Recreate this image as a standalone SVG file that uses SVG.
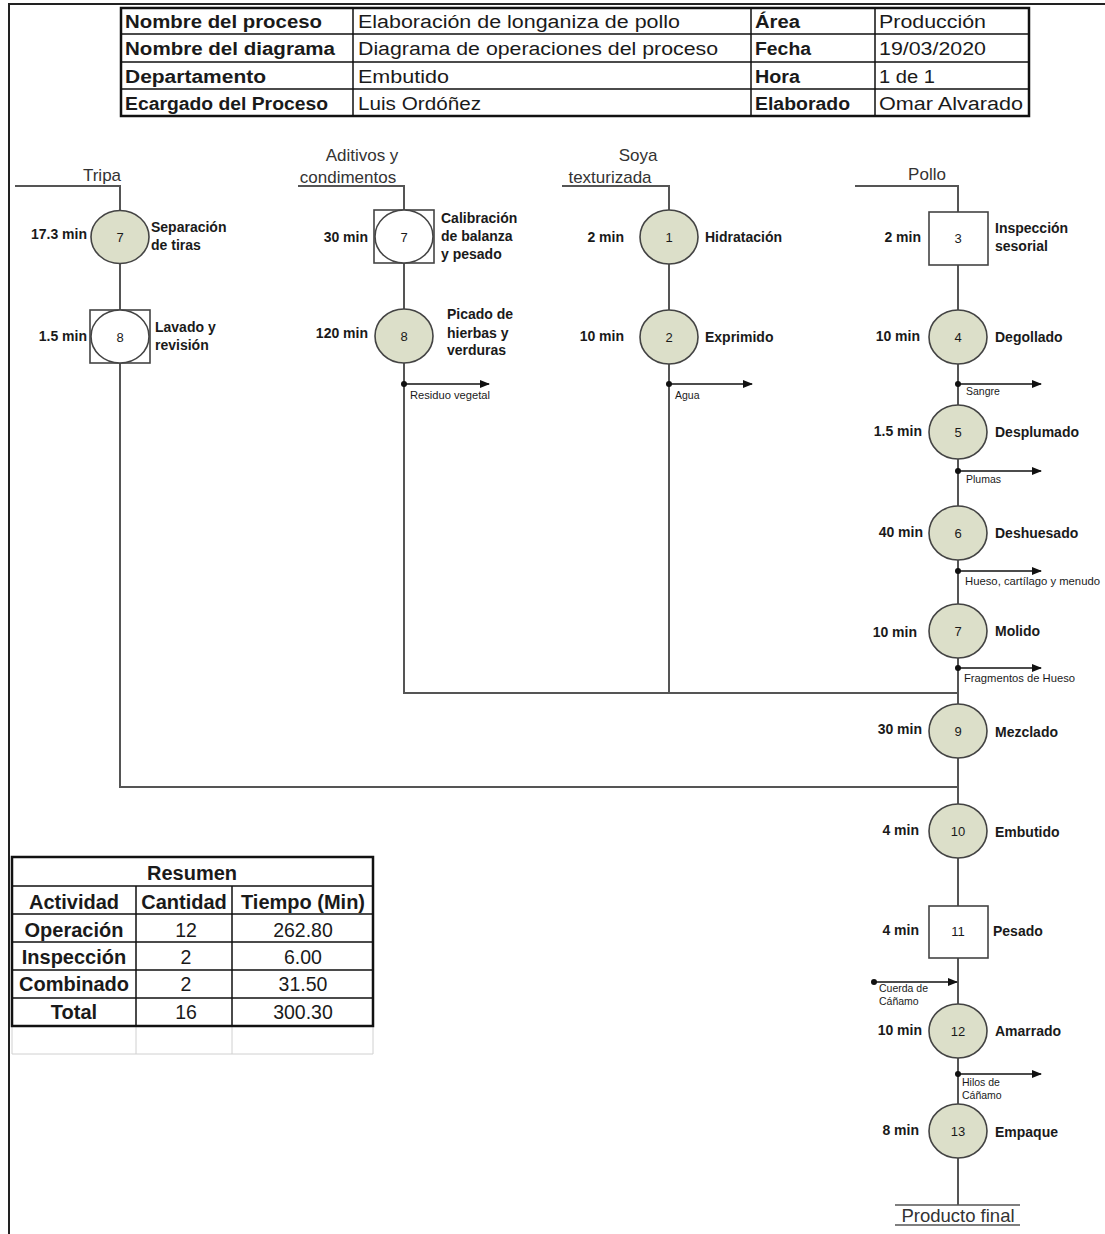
<svg xmlns="http://www.w3.org/2000/svg" width="1105" height="1234" viewBox="0 0 1105 1234">
<defs>
<marker id="arr" markerWidth="10" markerHeight="8" refX="9" refY="4" orient="auto" markerUnits="userSpaceOnUse">
<path d="M0,0 L10,4 L0,8 z" fill="#111"/>
</marker>
<style>
.ln{stroke:#555;stroke-width:2;fill:none}
.wl{stroke:#111;stroke-width:1.5;fill:none}
.dot{fill:#111}
.op{fill:#dcdfc9;stroke:#444;stroke-width:1.6}
.wc{fill:#fff;stroke:#444;stroke-width:1.6}
.sq{fill:#fff;stroke:#444;stroke-width:1.6}
text{font-family:"Liberation Sans",Arial,sans-serif;fill:#1a1a1a}
.h{font-size:18px}
.hb{font-size:18px;font-weight:bold}
.num{font-size:13px;text-anchor:middle}
.t{font-size:14px;font-weight:bold;text-anchor:end}
.lb{font-size:14px;font-weight:bold}
.in{font-size:17px;text-anchor:middle;fill:#333}
.w{font-size:10.5px}
.r{font-size:19.5px;text-anchor:middle}
.rb{font-size:20px;font-weight:bold;text-anchor:middle}
.cell{fill:none;stroke:#111;stroke-width:1.5}
</style>
</defs>
<rect width="1105" height="1234" fill="#fff"/>
<!-- page border -->
<path d="M9,1234 V4 H1105" stroke="#222" stroke-width="2" fill="none"/>

<!-- header table -->
<g id="header">
<rect x="121" y="8" width="908" height="108" fill="#fff" stroke="#111" stroke-width="2.5"/>
<path d="M121,34 H1029 M121,62 H1029 M121,89 H1029 M353,8 V116 M751,8 V116 M875,8 V116" class="cell"/>
<text class="hb" x="125" y="28" textLength="197" lengthAdjust="spacingAndGlyphs">Nombre del proceso</text>
<text class="h" x="358" y="28" textLength="322" lengthAdjust="spacingAndGlyphs">Elaboración de longaniza de pollo</text>
<text class="hb" x="755" y="28" textLength="45" lengthAdjust="spacingAndGlyphs">Área</text>
<text class="h" x="879" y="28" textLength="107" lengthAdjust="spacingAndGlyphs">Producción</text>
<text class="hb" x="125" y="55" textLength="210" lengthAdjust="spacingAndGlyphs">Nombre del diagrama</text>
<text class="h" x="358" y="55" textLength="360" lengthAdjust="spacingAndGlyphs">Diagrama de operaciones del proceso</text>
<text class="hb" x="755" y="55" textLength="56" lengthAdjust="spacingAndGlyphs">Fecha</text>
<text class="h" x="879" y="55" textLength="107" lengthAdjust="spacingAndGlyphs">19/03/2020</text>
<text class="hb" x="125" y="83" textLength="141" lengthAdjust="spacingAndGlyphs">Departamento</text>
<text class="h" x="358" y="83" textLength="91" lengthAdjust="spacingAndGlyphs">Embutido</text>
<text class="hb" x="755" y="83" textLength="45" lengthAdjust="spacingAndGlyphs">Hora</text>
<text class="h" x="879" y="83" textLength="56" lengthAdjust="spacingAndGlyphs">1 de 1</text>
<text class="hb" x="125" y="110" textLength="203" lengthAdjust="spacingAndGlyphs">Ecargado del Proceso</text>
<text class="h" x="358" y="110" textLength="123" lengthAdjust="spacingAndGlyphs">Luis Ordóñez</text>
<text class="hb" x="755" y="110" textLength="95" lengthAdjust="spacingAndGlyphs">Elaborado</text>
<text class="h" x="879" y="110" textLength="144" lengthAdjust="spacingAndGlyphs">Omar Alvarado</text>
</g>

<!-- connectors -->
<g id="connectors">
<path class="ln" d="M15,186 H120 V211 M120,263 V310 M120,363 V787 H958"/>
<path class="ln" d="M298,186 H404 V210 M404,263 V309 M404,363 V693 H669"/>
<path class="ln" d="M562,186 H669 V210 M669,264 V310 M669,364 V693 H958"/>
<path class="ln" d="M855,186 H958 V212 M958,265 V310 M958,364 V405 M958,459 V506 M958,560 V604 M958,658 V704 M958,758 V804 M958,858 V906 M958,958 V1004 M958,1058 V1104 M958,1158 V1205"/>
<!-- waste / input arrows -->
<path class="wl" d="M404,384 H489" marker-end="url(#arr)"/><circle class="dot" cx="404" cy="384" r="3"/>
<path class="wl" d="M669,384 H752" marker-end="url(#arr)"/><circle class="dot" cx="669" cy="384" r="3"/>
<path class="wl" d="M958,384 H1041" marker-end="url(#arr)"/><circle class="dot" cx="958" cy="384" r="3"/>
<path class="wl" d="M958,471 H1041" marker-end="url(#arr)"/><circle class="dot" cx="958" cy="471" r="3"/>
<path class="wl" d="M958,571 H1041" marker-end="url(#arr)"/><circle class="dot" cx="958" cy="571" r="3"/>
<path class="wl" d="M958,668 H1041" marker-end="url(#arr)"/><circle class="dot" cx="958" cy="668" r="3"/>
<path class="wl" d="M874,982 H957" marker-end="url(#arr)"/><circle class="dot" cx="874" cy="982" r="3"/>
<path class="wl" d="M958,1074 H1041" marker-end="url(#arr)"/><circle class="dot" cx="958" cy="1074" r="3"/>
<text class="w" x="410" y="399" textLength="80" lengthAdjust="spacingAndGlyphs">Residuo vegetal</text>
<text class="w" x="675" y="399">Agua</text>
<text class="w" x="966" y="395">Sangre</text>
<text class="w" x="966" y="483">Plumas</text>
<text class="w" x="965" y="585" textLength="135" lengthAdjust="spacingAndGlyphs">Hueso, cartílago y menudo</text>
<text class="w" x="964" y="682" textLength="111" lengthAdjust="spacingAndGlyphs">Fragmentos de Hueso</text>
<text class="w" x="879" y="992">Cuerda de</text>
<text class="w" x="879" y="1005">Cáñamo</text>
<text class="w" x="962" y="1086">Hilos de</text>
<text class="w" x="962" y="1099">Cáñamo</text>
</g>

<!-- inputs -->
<g id="inputs">
<text class="in" x="102" y="181">Tripa</text>
<text class="in" x="362" y="161">Aditivos y</text>
<text class="in" x="348" y="183">condimentos</text>
<text class="in" x="638" y="161">Soya</text>
<text class="in" x="610" y="183">texturizada</text>
<text class="in" x="927" y="180">Pollo</text>
</g>

<g id="n-tripa-7">
<ellipse class="op" cx="120" cy="237" rx="29" ry="26.5"/>
<text class="num" x="120" y="242">7</text>
<text class="t" x="87" y="239">17.3 min</text>
<text class="lb" x="151" y="232">Separación</text>
<text class="lb" x="151" y="250">de tiras</text>
</g>
<g id="n-tripa-8">
<rect class="sq" x="90" y="310" width="60" height="53"/>
<ellipse class="wc" cx="120" cy="336.5" rx="29" ry="26.5"/>
<text class="num" x="120" y="342">8</text>
<text class="t" x="87" y="341">1.5 min</text>
<text class="lb" x="155" y="332">Lavado y</text>
<text class="lb" x="155" y="350">revisión</text>
</g>

<g id="n-adit-7">
<rect class="sq" x="374" y="210" width="60" height="53"/>
<ellipse class="wc" cx="404" cy="236.5" rx="29" ry="26.5"/>
<text class="num" x="404" y="242">7</text>
<text class="t" x="368" y="242">30 min</text>
<text class="lb" x="441" y="223">Calibración</text>
<text class="lb" x="441" y="241">de balanza</text>
<text class="lb" x="441" y="259">y pesado</text>
</g>
<g id="n-adit-8">
<ellipse class="op" cx="404" cy="336" rx="29" ry="27"/>
<text class="num" x="404" y="341">8</text>
<text class="t" x="368" y="338">120 min</text>
<text class="lb" x="447" y="319">Picado de</text>
<text class="lb" x="447" y="338">hierbas y</text>
<text class="lb" x="447" y="355">verduras</text>
</g>

<g id="n-soya-1">
<ellipse class="op" cx="669" cy="237" rx="29" ry="27"/>
<text class="num" x="669" y="242">1</text>
<text class="t" x="624" y="242">2 min</text>
<text class="lb" x="705" y="242">Hidratación</text>
</g>
<g id="n-soya-2">
<ellipse class="op" cx="669" cy="337" rx="29" ry="27"/>
<text class="num" x="669" y="342">2</text>
<text class="t" x="624" y="341">10 min</text>
<text class="lb" x="705" y="342">Exprimido</text>
</g>

<g id="n-pollo-3">
<rect class="sq" x="929" y="212" width="59" height="53"/>
<text class="num" x="958" y="243">3</text>
<text class="t" x="921" y="242">2 min</text>
<text class="lb" x="995" y="233">Inspección</text>
<text class="lb" x="995" y="251">sesorial</text>
</g>
<g id="n-pollo-4">
<ellipse class="op" cx="958" cy="337" rx="29" ry="27"/>
<text class="num" x="958" y="342">4</text>
<text class="t" x="920" y="341">10 min</text>
<text class="lb" x="995" y="342">Degollado</text>
</g>
<g id="n-pollo-5">
<ellipse class="op" cx="958" cy="432" rx="29" ry="27"/>
<text class="num" x="958" y="437">5</text>
<text class="t" x="922" y="436">1.5 min</text>
<text class="lb" x="995" y="437">Desplumado</text>
</g>
<g id="n-pollo-6">
<ellipse class="op" cx="958" cy="533" rx="29" ry="27"/>
<text class="num" x="958" y="538">6</text>
<text class="t" x="923" y="537">40 min</text>
<text class="lb" x="995" y="538">Deshuesado</text>
</g>
<g id="n-pollo-7">
<ellipse class="op" cx="958" cy="631" rx="29" ry="27"/>
<text class="num" x="958" y="636">7</text>
<text class="t" x="917" y="637">10 min</text>
<text class="lb" x="995" y="636">Molido</text>
</g>
<g id="n-9">
<ellipse class="op" cx="958" cy="731" rx="29" ry="27"/>
<text class="num" x="958" y="736">9</text>
<text class="t" x="922" y="734">30 min</text>
<text class="lb" x="995" y="737">Mezclado</text>
</g>
<g id="n-10">
<ellipse class="op" cx="958" cy="831" rx="29" ry="27"/>
<text class="num" x="958" y="836">10</text>
<text class="t" x="919" y="835">4 min</text>
<text class="lb" x="995" y="837">Embutido</text>
</g>
<g id="n-11">
<rect class="sq" x="929" y="906" width="59" height="52"/>
<text class="num" x="958" y="936">11</text>
<text class="t" x="919" y="935">4 min</text>
<text class="lb" x="993" y="936">Pesado</text>
</g>
<g id="n-12">
<ellipse class="op" cx="958" cy="1031" rx="29" ry="27"/>
<text class="num" x="958" y="1036">12</text>
<text class="t" x="922" y="1035">10 min</text>
<text class="lb" x="995" y="1036">Amarrado</text>
</g>
<g id="n-13">
<ellipse class="op" cx="958" cy="1131" rx="29" ry="27"/>
<text class="num" x="958" y="1136">13</text>
<text class="t" x="919" y="1135">8 min</text>
<text class="lb" x="995" y="1137">Empaque</text>
</g>
<g id="end">
<path d="M895,1205 H1020 M895,1225 H1020" stroke="#555" stroke-width="1.5"/>
<text class="in" x="958" y="1222" style="font-size:18.5px">Producto final</text>
</g>

<!-- summary table -->
<g id="resumen">
<path d="M12,1026 V1054 H373 V1026 M136,1026 V1054 M232,1026 V1054" stroke="#d0d0d0" stroke-width="1" fill="none"/>
<rect x="12" y="857" width="361" height="169" fill="none" stroke="#111" stroke-width="2.5"/>
<path class="cell" d="M12,886 H373 M12,914 H373 M12,942 H373 M12,970 H373 M12,998 H373 M136,886 V1026 M232,886 V1026"/>
<text class="rb" x="192" y="880">Resumen</text>
<text class="rb" x="74" y="909">Actividad</text>
<text class="rb" x="184" y="909">Cantidad</text>
<text class="rb" x="303" y="909">Tiempo (Min)</text>
<text class="rb" x="74" y="937">Operación</text>
<text class="r" x="186" y="937">12</text>
<text class="r" x="303" y="937">262.80</text>
<text class="rb" x="74" y="964">Inspección</text>
<text class="r" x="186" y="964">2</text>
<text class="r" x="303" y="964">6.00</text>
<text class="rb" x="74" y="991">Combinado</text>
<text class="r" x="186" y="991">2</text>
<text class="r" x="303" y="991">31.50</text>
<text class="rb" x="74" y="1019">Total</text>
<text class="r" x="186" y="1019">16</text>
<text class="r" x="303" y="1019">300.30</text>
</g>
</svg>
